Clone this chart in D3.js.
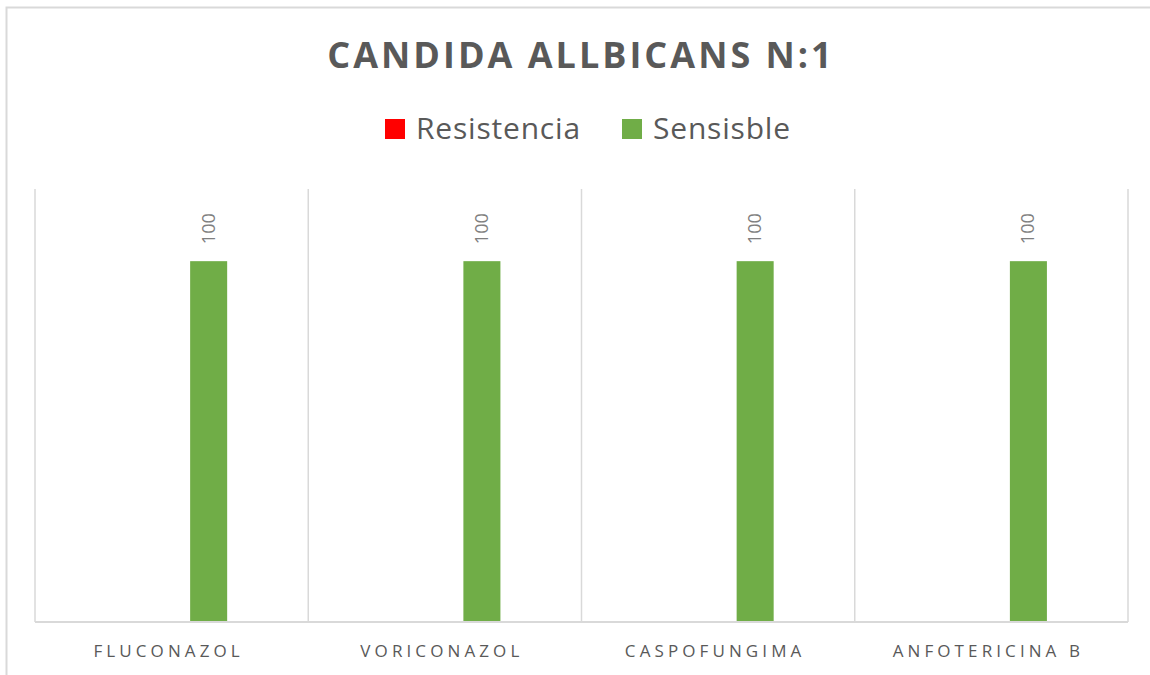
<!DOCTYPE html>
<html>
<head>
<meta charset="utf-8">
<script src="https://cdn.jsdelivr.net/npm/d3@7"></script>
<style>
  body { margin: 0; background: #fff; }
  svg { display: block; font-family: "Open Sans", "Noto Sans", sans-serif; }
</style>
</head>
<body>
<svg id="chart" width="1150" height="675"></svg>
<script>
// chart data
var categories = ['FLUCONAZOL', 'VORICONAZOL', 'CASPOFUNGIMA', 'ANFOTERICINA B'];
var seriesNames = ['Resistencia', 'Sensisble'];
var resistencia = [0, 0, 0, 0];
var sensible = [100, 100, 100, 100];
var colors = ['#ff0000', '#70ad47'];
// the bar slots: excel leaves an empty middle slot between the two series
var slots = ['Resistencia', '', 'Sensisble'];
var yMax = 120;

var svg = d3.select('#chart');

// outer border (chart area)
svg.append('rect')
    .attr('x', 6.5).attr('y', 7.5)
    .attr('width', 1200).attr('height', 700)
    .attr('fill', 'none')
    .attr('stroke', '#d9d9d9')
    .attr('stroke-width', 2);

var margin = {top: 189, right: 22, bottom: 53, left: 35};
var width = 1150 - margin.left - margin.right;
var height = 675 - margin.top - margin.bottom;

var g = svg.append('g')
    .attr('transform', 'translate(' + margin.left + ',' + margin.top + ')');

var x = d3.scaleBand().domain(categories).range([0, width]);
var x1 = d3.scaleBand().domain(slots).range([0, x.bandwidth()]).paddingInner(0).paddingOuter(2.19);
var y = d3.scaleLinear().domain([0, yMax]).range([height, 0]);

// vertical gridlines between categories
var edges = categories.map(function(c) { return x(c); }).concat([width]);
g.selectAll('.vgrid')
    .data(edges)
    .enter().append('line')
    .attr('class', 'vgrid')
    .attr('x1', function(d) { return d; })
    .attr('x2', function(d) { return d; })
    .attr('y1', 0)
    .attr('y2', height)
    .attr('stroke', '#d9d9d9')
    .attr('stroke-width', 1.5);

// bars
var rows = categories.map(function(c, i) {
    return {cat: c, vals: [resistencia[i], sensible[i]]};
});
var groups = g.selectAll('.grp')
    .data(rows)
    .enter().append('g')
    .attr('transform', function(d) { return 'translate(' + x(d.cat) + ',0)'; });

groups.selectAll('rect')
    .data(function(d) { return d.vals.map(function(v, j) { return {s: seriesNames[j], v: v, j: j}; }); })
    .enter().append('rect')
    .attr('x', function(d) { return x1(d.s); })
    .attr('width', x1.bandwidth())
    .attr('y', function(d) { return y(d.v); })
    .attr('height', function(d) { return height - y(d.v); })
    .attr('fill', function(d) { return colors[d.j]; });

// data labels (only non-zero)
groups.selectAll('.lbl')
    .data(function(d) { return d.vals.map(function(v, j) { return {s: seriesNames[j], v: v}; }).filter(function(d) { return d.v > 0; }); })
    .enter().append('text')
    .attr('class', 'lbl')
    .attr('transform', function(d) {
        return 'translate(' + (x1(d.s) + x1.bandwidth() / 2 + 6) + ',' + (y(d.v) - 17) + ') rotate(-90)';
    })
    .attr('text-anchor', 'start')
    .attr('fill', '#7f7f7f')
    .style('font-size', '18px')
    .text(function(d) { return d.v; });

// x axis line
g.append('line')
    .attr('x1', 0).attr('x2', width)
    .attr('y1', height).attr('y2', height)
    .attr('stroke', '#d9d9d9')
    .attr('stroke-width', 2);

// x axis labels
g.selectAll('.xlab')
    .data(categories)
    .enter().append('text')
    .attr('class', 'xlab')
    .attr('x', function(d) { return x(d) + x.bandwidth() / 2 - 3; })
    .attr('y', height + 35)
    .attr('text-anchor', 'middle')
    .attr('fill', '#595959')
    .style('font-size', '17px')
    .style('letter-spacing', '4.1px')
    .text(function(d) { return d; });

// title
svg.append('text')
    .attr('x', 581)
    .attr('y', 68)
    .attr('text-anchor', 'middle')
    .attr('fill', '#595959')
    .style('font-size', '36px')
    .style('font-weight', 'bold')
    .style('letter-spacing', '3px')
    .text('CANDIDA ALLBICANS N:1');

// legend
var legendX = [385, 622];
var legend = svg.selectAll('.leg')
    .data(seriesNames)
    .enter().append('g')
    .attr('class', 'leg')
    .attr('transform', function(d, i) { return 'translate(' + legendX[i] + ',119)'; });
legend.append('rect')
    .attr('width', 20).attr('height', 20)
    .attr('fill', function(d, i) { return colors[i]; });
legend.append('text')
    .attr('x', 31)
    .attr('y', 20)
    .attr('fill', '#595959')
    .style('font-size', '30px')
    .style('letter-spacing', '0.8px')
    .text(function(d) { return d; });
</script>
</body>
</html>
